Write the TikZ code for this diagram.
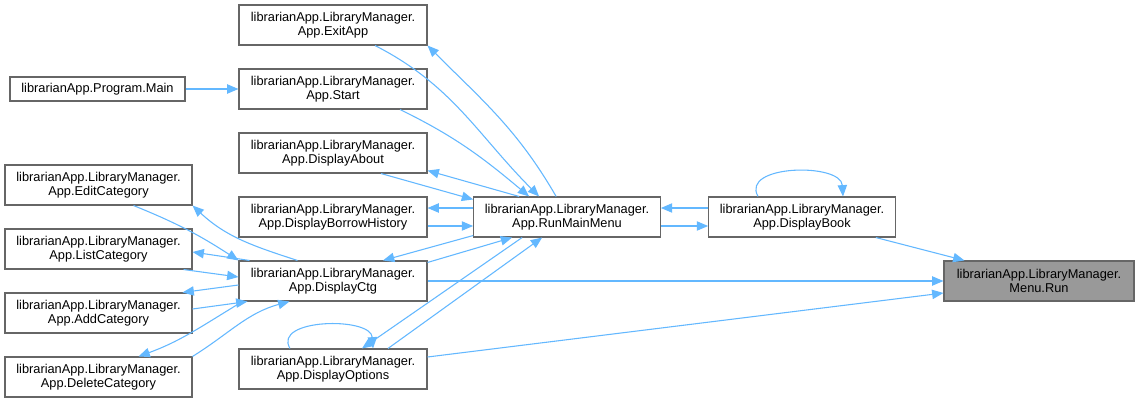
\documentclass[tikz,border=0pt]{standalone}
\usepackage{fontspec}
\setmainfont{Liberation Sans}
\usetikzlibrary{arrows.meta,calc}
\definecolor{edgeblue}{HTML}{63B8FF}
\definecolor{boxgray}{HTML}{666666}
\definecolor{focusgray}{HTML}{999999}

\begin{document}
\begin{tikzpicture}[
    x=0.75pt, y=-0.75pt,
    font=\fontsize{9.6}{10.7}\selectfont,
    >={Triangle[length=8.5pt, width=7pt]},
    func/.style={draw=boxgray, line width=0.8pt, fill=white, align=center, minimum width=141pt, minimum height=30pt, inner sep=1pt},
    leftfunc/.style={func, minimum width=140.25pt},
    midfunc/.style={func, minimum width=140pt},
    selfunc/.style={func, fill=focusgray, minimum width=142.5pt},
    call/.style={->, edgeblue, line width=0.8pt},
]

    \fill[white] (0,0) rectangle (1136,403);
    \useasboundingbox (0,0) rectangle (1136,403);

    % --- Left column: category helpers ---
    \node[func, minimum width=131.25pt, minimum height=18pt] (main) at (97.5,89) {librarianApp.Program.Main};
    \node[leftfunc] (edit) at (98.5,185) {librarianApp.LibraryManager.\\App.EditCategory};
    \node[leftfunc] (list) at (98.5,249) {librarianApp.LibraryManager.\\App.ListCategory};
    \node[leftfunc] (add) at (98.5,313) {librarianApp.LibraryManager.\\App.AddCategory};
    \node[leftfunc] (del) at (98.5,377) {librarianApp.LibraryManager.\\App.DeleteCategory};

    % --- Second column: App methods ---
    \node[func] (exit) at (333,25) {librarianApp.LibraryManager.\\App.ExitApp};
    \node[func] (start) at (333,89) {librarianApp.LibraryManager.\\App.Start};
    \node[func] (about) at (333,153) {librarianApp.LibraryManager.\\App.DisplayAbout};
    \node[func] (borrow) at (333,217) {librarianApp.LibraryManager.\\App.DisplayBorrowHistory};
    \node[func] (ctg) at (333,281) {librarianApp.LibraryManager.\\App.DisplayCtg};
    \node[func] (opts) at (333,369) {librarianApp.LibraryManager.\\App.DisplayOptions};

    % --- Right part: menu loop and selected function ---
    \node[midfunc] (run) at (567,217) {librarianApp.LibraryManager.\\App.RunMainMenu};
    \node[midfunc] (book) at (802,217) {librarianApp.LibraryManager.\\App.DisplayBook};
    \node[selfunc] (menurun) at (1039,281) {librarianApp.LibraryManager.\\Menu.Run};

    % --- Calls around RunMainMenu ---
    \draw[call] (main.east) -- (start.west);
    \draw[call] ($(exit.south)+(42,0)$) to[out=-27, in=135] ($(run.north west)+(66,0)$);
    \draw[call] ($(run.north west)+(83,0)$) to[out=120, in=-45] (exit.south east);
    \draw[call] ($(start.south)+(67,0)$) to[out=-26, in=140] ($(run.north west)+(56,0)$);
    \draw[call] ($(about.south)+(48,0)$) -- ($(run.north west)+(0,3)$);
    \draw[call] ($(run.north west)+(46,0)$) -- ($(about.south east)+(0,-3)$);
    \draw[call] ($(run.west)+(0,-9)$) -- ($(borrow.east)+(0,-9)$);
    \draw[call] ($(borrow.east)+(0,9)$) -- ($(run.west)+(0,9)$);
    \draw[call] ($(run.south west)+(0,-2)$) -- ($(ctg.north)+(50,0)$);
    \draw[call] ($(ctg.north east)+(0,2)$) -- ($(run.south west)+(39,0)$);
    \draw[call] ($(run.south west)+(49,0)$) -- ($(opts.north)+(29,0)$);
    \draw[call] ($(opts.north)+(55,0)$) -- ($(run.south west)+(69,0)$);
    \draw[call] ($(book.west)+(0,-9)$) -- ($(run.east)+(0,-9)$);
    \draw[call] ($(run.east)+(0,9)$) -- ($(book.west)+(0,9)$);

    % self calls
    \draw[call] ($(opts.north)+(-43,0)$) .. controls +(-18,-30) and +(-2,-32) .. ($(opts.north)+(40,0)$);
    \draw[call] ($(book.north)+(-44,0)$) .. controls +(-18,-32) and +(-2,-34) .. ($(book.north)+(41,0)$);

    % --- Calls into Menu.Run ---
    \draw[call] ($(book.south east)+(-20,0)$) -- ($(menurun.north west)+(21,0)$);
    \draw[call] (ctg.east) -- (menurun.west);
    \draw[call] ($(opts.east)+(0,-12)$) -- ($(menurun.west)+(0,12)$);

    % --- Category helpers and DisplayCtg ---
    \draw[call] ($(edit.south)+(35,0)$) to[out=-22, in=147] (ctg.north west);
    \draw[call] ($(ctg.north west)+(59,0)$) to[out=162, in=-43] (edit.south east);
    \draw[call] ($(ctg.north west)+(11,0)$) -- ($(list.east)+(0,3)$);
    \draw[call] ($(list.south east)+(-9,0)$) -- ($(ctg.west)+(0,-4)$);
    \draw[call] ($(ctg.west)+(0,4)$) -- ($(add.north east)+(-10,0)$);
    \draw[call] ($(add.east)+(0,-4)$) -- ($(ctg.south west)+(9,0)$);
    \draw[call] ($(ctg.south west)+(4,0)$) to[out=-149, in=20] ($(del.north)+(40,0)$);
    \draw[call] (del.north east) to[out=32, in=-165] ($(ctg.south west)+(51,0)$);

\end{tikzpicture}
\end{document}
